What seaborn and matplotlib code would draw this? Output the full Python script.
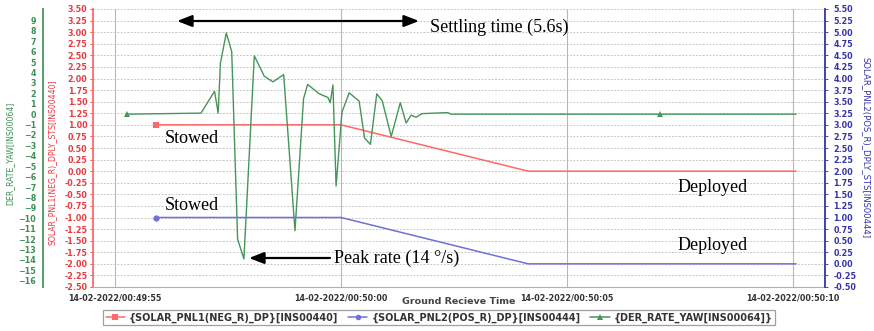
import numpy as np
import pandas as pd
import matplotlib
matplotlib.use("Agg")
import matplotlib.pyplot as plt
from matplotlib.lines import Line2D
import seaborn as sns

# time in seconds relative to 14-02-2022/00:50:00
pnl1_time = [-4.09, 0.0, 4.14, 10.07]
pnl1_value = [1.0, 1.0, 0.0, 0.0]
pnl2_time = [-4.09, 0.0, 4.14, 10.07]
pnl2_value = [1.0, 1.0, 0.0, 0.0]
yaw_time = [-4.73, -3.10, -2.80, -2.72, -2.67, -2.54, -2.42, -2.29, -2.15, -1.92,
            -1.70, -1.51, -1.27, -1.02, -0.83, -0.74, -0.48, -0.29, -0.24, -0.18,
            -0.11, 0.02, 0.18, 0.40, 0.52, 0.65, 0.79, 0.91, 1.11, 1.31,
            1.44, 1.55, 1.66, 1.79, 2.36, 2.43, 7.06, 10.07]
yaw_value = [0.0, 0.1, 2.2, 0.1, 4.9, 7.8, 6.0, -12.0, -13.9, 5.6,
             3.65, 3.1, 3.8, -11.2, 1.5, 2.85, 1.95, 1.6, 1.1, 2.8,
             -6.9, 0.2, 2.05, 1.25, -2.3, -2.9, 1.95, 1.3, -2.15, 1.1,
             -0.85, -0.1, -0.3, 0.05, 0.15, 0.0, 0.0, 0.0]
x_ticks = [-5, 0, 5, 10]
x_tick_labels = ["14-02-2022/00:49:55", "14-02-2022/00:50:00",
                 "14-02-2022/00:50:05", "14-02-2022/00:50:10"]
legend_labels = ["{SOLAR_PNL1(NEG_R)_DP}[INS00440]",
                 "{SOLAR_PNL2(POS_R)_DP}[INS00444]",
                 "{DER_RATE_YAW[INS00064]}"]

RED = "#ff6868"
BLUE = "#7070d8"
GREEN = "#46955a"
RED_TXT = "#e83a40"
BLUE_TXT = "#3434a8"
GREEN_TXT = "#3f8f55"

sns.set_style("white")
plt.rcParams["font.family"] = ["DejaVu Sans"]

W, H = 874, 331
fig = plt.figure(figsize=(W / 100, H / 100), dpi=100)
left, right, top, bottom = 93, 825, 9, 287
ax = fig.add_axes([left / W, 1 - bottom / H, (right - left) / W, (bottom - top) / H])
ax_g = ax.twinx()
ax_b = ax.twinx()

df1 = pd.DataFrame({"t": pnl1_time, "v": pnl1_value})
df2 = pd.DataFrame({"t": pnl2_time, "v": pnl2_value})
df3 = pd.DataFrame({"t": yaw_time, "v": yaw_value})

sns.lineplot(data=df1, x="t", y="v", ax=ax, color=RED, lw=1.1, marker="s",
             markersize=4.5, markevery=[0], markeredgewidth=0, legend=False)
sns.lineplot(data=df2, x="t", y="v", ax=ax_b, color=BLUE, lw=1.1, marker="o",
             markersize=4.5, markevery=[0], markeredgewidth=0, legend=False)
sns.lineplot(data=df3, x="t", y="v", ax=ax_g, color=GREEN, lw=1.0, marker="^",
             markersize=5, markevery=[0, len(yaw_time) - 2], markeredgewidth=0,
             legend=False)

ax.set_xlim(-5.49, 10.71)
ax.set_ylim(-2.5, 3.5)
ax_b.set_ylim(-0.5, 5.5)
ax_g.set_ylim(-16.6, 10.1)

red_ticks = np.arange(-2.5, 3.51, 0.25)
blue_ticks = np.arange(-0.5, 5.51, 0.25)
ax.set_yticks(red_ticks)
ax.set_yticklabels([f"{v:.2f}" for v in red_ticks])
ax_b.set_yticks(blue_ticks)
ax_b.set_yticklabels([f"{v:.2f}" for v in blue_ticks])
ax_g.set_yticks(np.arange(-16, 10, 1))

ax.set_xticks(x_ticks)
ax.set_xticklabels(x_tick_labels)

# grid
for a in (ax, ax_g, ax_b):
    a.grid(False)
for yv in red_ticks:
    ax.axhline(yv, color="#c8c8c8", lw=0.7, ls=(0, (2, 1.5)), zorder=0)
for xv in x_ticks:
    ax.axvline(xv, color="#b8b8b8", lw=0.8, zorder=0)

# spines
for a in (ax, ax_g, ax_b):
    for s in a.spines.values():
        s.set_visible(False)
ax.spines["left"].set_visible(True)
ax.spines["left"].set_color(RED)
ax.spines["left"].set_linewidth(1.3)
ax.spines["bottom"].set_visible(True)
ax.spines["bottom"].set_color("#b0b0b0")
ax.spines["bottom"].set_linewidth(0.8)
ax_b.spines["right"].set_visible(True)
ax_b.spines["right"].set_color(BLUE_TXT)
ax_b.spines["right"].set_linewidth(1.3)
ax_g.yaxis.set_ticks_position("left")
ax_g.yaxis.set_label_position("left")
ax_g.spines["left"].set_visible(True)
ax_g.spines["left"].set_position(("outward", (left - 43) * 0.72))
ax_g.spines["left"].set_color(GREEN)
ax_g.spines["left"].set_linewidth(1.3)

ax.tick_params(axis="y", colors=RED_TXT, length=2, width=0.6, pad=2, labelsize=5.8)
ax.tick_params(axis="x", colors="#333333", length=3, width=0.6, pad=1.5, labelsize=5.8)
ax_b.tick_params(axis="y", colors=BLUE_TXT, length=2, width=0.6, pad=4, labelsize=5.8)
ax_g.tick_params(axis="y", colors=GREEN_TXT, length=0, pad=5, labelsize=5.8)
for lab in ax.get_xticklabels() + ax.get_yticklabels() + ax_b.get_yticklabels() + ax_g.get_yticklabels():
    lab.set_fontweight("bold")

ax.set_xlabel("Ground Recieve Time", fontsize=6.8, fontweight="bold", color="#444444")
ax.xaxis.set_label_coords(0.5, -0.035)
ax.set_ylabel("SOLAR_PNL1(NEG_R)_DPLY_STS[INS00440]", fontsize=5.6, color=RED_TXT,
              va="center")
ax.yaxis.set_label_coords((52 - left) / (right - left), 0.45)
ax_g.set_ylabel("DER_RATE_YAW[INS00064]", fontsize=5.6, color=GREEN_TXT, va="center")
ax_g.yaxis.set_label_coords((10 - left) / (right - left), 0.48)
ax_b.set_ylabel("SOLAR_PNL2(POS_R)_DPLY_STS[INS00444]", fontsize=6.1, color=BLUE_TXT,
                rotation=270, va="center")
ax_b.yaxis.set_label_coords((866 - left) / (right - left), 0.50)

# legend
hs = [Line2D([], [], color=RED, marker="s", markersize=4, lw=1.1, markeredgewidth=0),
      Line2D([], [], color=BLUE, marker="o", markersize=4, lw=1.1, markeredgewidth=0),
      Line2D([], [], color=GREEN, marker="^", markersize=4.5, lw=1.1, markeredgewidth=0)]
leg = fig.legend(hs, legend_labels, loc="lower center", bbox_to_anchor=(439 / W, 0.002),
                 ncol=3, frameon=True, fancybox=False, edgecolor="#888888",
                 handlelength=2.0, handletextpad=0.4, columnspacing=1.0,
                 borderpad=0.25, prop={"weight": "bold", "size": 7})
leg.get_frame().set_linewidth(0.9)
for t in leg.get_texts():
    t.set_color("#333333")

# annotations
serif = dict(family=["Liberation Serif", "DejaVu Serif"], size=13, color="black")


def fx(x):
    return x / W


def fy(y):
    return 1 - y / H


fig.text(fx(430), fy(27), "Settling time (5.6s)", va="center", ha="left", **serif)
fig.text(fx(165), fy(138), "Stowed", va="center", ha="left", **serif)
fig.text(fx(165), fy(205), "Stowed", va="center", ha="left", **serif)
fig.text(fx(678), fy(187), "Deployed", va="center", ha="left", **serif)
fig.text(fx(678), fy(246), "Deployed", va="center", ha="left", **serif)
fig.text(fx(334), fy(258), "Peak rate (14 °/s)", va="center", ha="left", **serif)

ax.annotate("", xy=(fx(177), fy(21)), xytext=(fx(419), fy(21)),
            xycoords="figure fraction", textcoords="figure fraction",
            arrowprops=dict(arrowstyle="<|-|>,head_length=0.9,head_width=0.35",
                            color="black", lw=1.6, shrinkA=0, shrinkB=0))
ax.annotate("", xy=(fx(249), fy(258)), xytext=(fx(330), fy(258)),
            xycoords="figure fraction", textcoords="figure fraction",
            arrowprops=dict(arrowstyle="-|>,head_length=0.9,head_width=0.35",
                            color="black", lw=1.6, shrinkA=0, shrinkB=0))

fig.savefig("out.png", dpi=100)
